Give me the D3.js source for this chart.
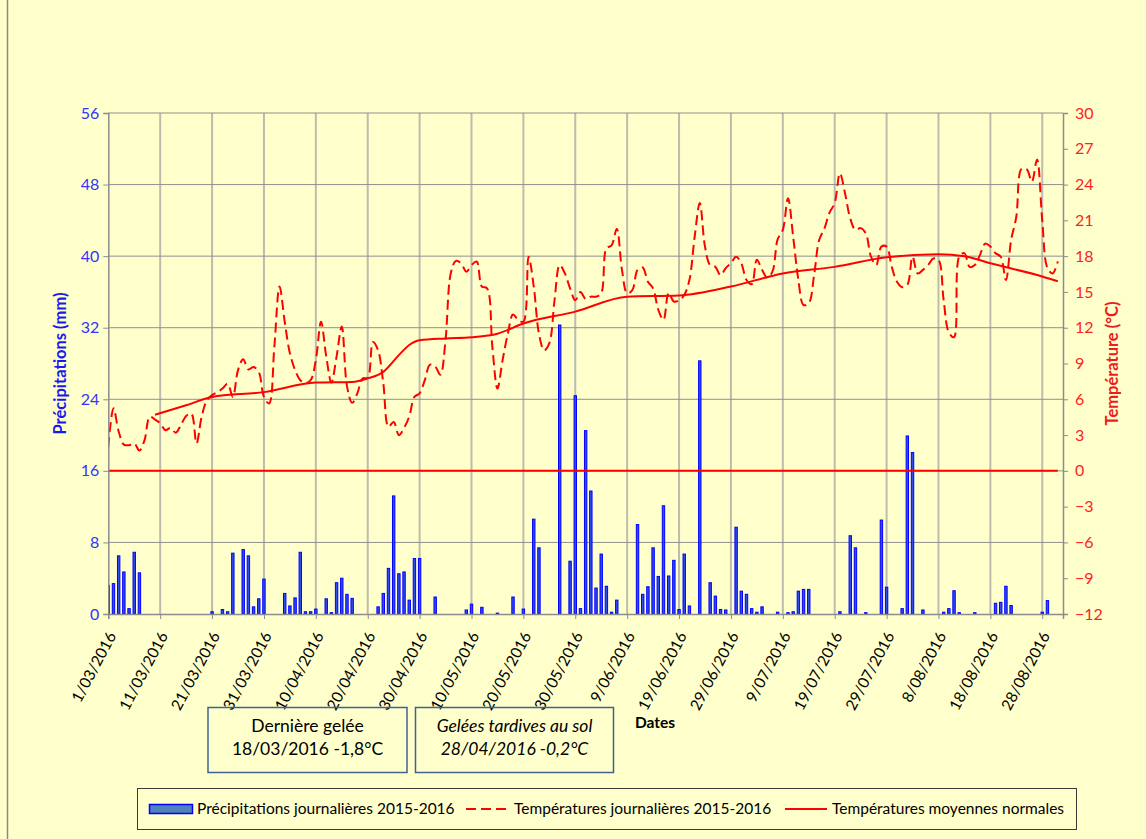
<!DOCTYPE html>
<html>
<head>
<meta charset="utf-8">
<script src="https://cdn.jsdelivr.net/npm/d3@7"></script>
<style>
  body { margin: 0; background: #FFFFCC; }
  svg { display: block; font-family: Lato, "Open Sans", sans-serif; }
</style>
</head>
<body>
<svg width="1146" height="839"></svg>
<script>
// ---- data (one value per day from 1/03/2016) ----
var startDate = "2016-03-01";
var endDate = "2016-09-01";

var rainDaily = [
  3.2, 3.4, 6.5, 4.7, 0.6, 6.9, 4.6, 0, 0, 0,
  0, 0, 0, 0, 0, 0, 0, 0, 0, 0,
  0.25, 0, 0.5, 0.25, 6.8, 0, 7.2, 6.5, 0.8, 1.7,
  3.9, 0, 0, 0, 2.3, 0.9, 1.8, 6.9, 0.25, 0.25,
  0.55, 0, 1.7, 0.15, 3.5, 4.0, 2.2, 1.75, 0, 0,
  0, 0, 0.8, 2.3, 5.1, 13.2, 4.5, 4.7, 1.55, 6.2,
  6.2, 0, 0, 1.9, 0, 0, 0, 0, 0, 0.45,
  1.1, 0, 0.75, 0, 0, 0.1, 0, 0, 1.9, 0,
  0.55, 0, 10.6, 7.4, 0, 0, 0, 32.3, 0, 5.9,
  24.4, 0.6, 20.5, 13.75, 2.9, 6.7, 3.1, 0.2, 1.55, 0,
  0, 0, 10.0, 2.2, 3.05, 7.4, 4.2, 12.1, 4.25, 6.0,
  0.5, 6.7, 0.9, 0, 28.3, 0, 3.5, 2.0, 0.5, 0.45,
  0, 9.7, 2.55, 2.2, 0.6, 0.2, 0.8, 0, 0, 0.2,
  0, 0.15, 0.25, 2.55, 2.75, 2.75, 0, 0, 0, 0,
  0, 0.25, 0, 8.75, 7.4, 0, 0.15, 0, 0, 10.5,
  3.0, 0, 0, 0.6, 19.9, 18.05, 0, 0.45, 0, 0,
  0, 0.2, 0.6, 2.6, 0.15, 0, 0, 0.15, 0, 0,
  0, 1.2, 1.3, 3.1, 0.95, 0, 0, 0, 0, 0,
  0.2, 1.5, 0, 0
];

var tempDaily = [
  2.0, 5.25, 3.3, 2.2, 2.15, 2.3, 1.7, 2.6, 4.55, 4.3,
  4.0, 3.4, 3.6, 3.2, 3.85, 4.6, 4.8, 2.3, 4.55, 5.9,
  6.35, 6.6, 6.9, 7.3, 6.2, 8.45, 9.35, 8.5, 8.7, 8.3,
  6.2, 5.65, 10.4, 15.45, 12.5, 9.85, 8.45, 7.6, 7.35, 7.6,
  9.3, 12.5, 9.6, 7.4, 9.6, 12.1, 7.1, 5.7, 6.5, 7.75,
  7.8, 10.8, 10.1, 7.35, 3.7, 4.1, 3.0, 3.6, 4.55, 6.2,
  6.5, 7.6, 8.9, 8.75, 8.05, 11.0, 16.55, 17.6, 17.4, 16.7,
  17.25, 17.55, 15.45, 15.3, 10.5, 6.9, 9.3, 11.5, 13.1, 12.65,
  12.5, 17.95, 15.45, 11.5, 10.1, 10.7, 14.3, 17.25, 16.55, 15.3,
  14.3, 15.0, 14.4, 14.6, 14.6, 14.9, 18.65, 18.9, 20.3, 16.85,
  14.9, 15.15, 16.85, 17.05, 15.85, 15.3, 13.5, 12.65, 14.9, 14.2,
  14.3, 14.75, 16.0, 19.6, 22.45, 18.8, 17.25, 17.1, 16.4, 17.0,
  17.4, 17.95, 17.4, 16.0, 15.65, 17.7, 16.85, 16.2, 16.7, 19.4,
  20.2, 22.85, 19.6, 16.0, 13.9, 14.05, 16.3, 19.35, 20.3, 21.65,
  22.45, 24.95, 23.25, 21.15, 20.2, 20.35, 19.9, 17.95, 17.25, 18.8,
  18.8, 17.1, 15.85, 15.4, 15.6, 17.95, 16.55, 16.85, 17.25, 17.8,
  17.7, 14.3, 11.6, 11.2, 17.95, 18.25, 17.1, 17.25, 18.1, 19.05,
  18.8, 18.25, 17.95, 16.0, 19.35, 21.3, 25.3, 25.3, 24.25, 26.1,
  21.0, 17.0, 16.55, 17.55
];

var normalDates = [
  "2016-03-10", "2016-03-16", "2016-03-21", "2016-03-31", "2016-04-10",
  "2016-04-17", "2016-04-20", "2016-04-23", "2016-04-26", "2016-04-28",
  "2016-04-30", "2016-05-05", "2016-05-10", "2016-05-15", "2016-05-20",
  "2016-05-30", "2016-06-09", "2016-06-19", "2016-06-29", "2016-07-09",
  "2016-07-19", "2016-07-29", "2016-08-08", "2016-08-13", "2016-08-18",
  "2016-08-28", "2016-08-31"
];
var normalTemp = [
  4.7, 5.5, 6.2, 6.6, 7.4,
  7.45, 7.75, 8.3, 9.7, 10.55,
  10.95, 11.1, 11.2, 11.5, 12.35,
  13.35, 14.6, 14.7, 15.45, 16.55,
  17.1, 17.9, 18.15, 18.0, 17.4,
  16.3, 15.9
];

var dateTicks = [
  "2016-03-01", "2016-03-11", "2016-03-21", "2016-03-31", "2016-04-10",
  "2016-04-20", "2016-04-30", "2016-05-10", "2016-05-20", "2016-05-30",
  "2016-06-09", "2016-06-19", "2016-06-29", "2016-07-09", "2016-07-19",
  "2016-07-29", "2016-08-08", "2016-08-18", "2016-08-28"
];
var rainTicks = [0, 8, 16, 24, 32, 40, 48, 56];
var tempTicks = [-12, -9, -6, -3, 0, 3, 6, 9, 12, 15, 18, 21, 24, 27, 30];

var legendLabels = [
  "Précipitations journalières 2015-2016",
  "Températures journalières 2015-2016",
  "Températures moyennes normales"
];
var noteLines = [
  ["Dernière gelée", "18/03/2016 -1,8°C"],
  ["Gelées tardives au sol", "28/04/2016 -0,2°C"]
];

// ---- setup ----
var parse = d3.utcParse("%Y-%m-%d");
var fmt = d3.utcFormat("%-d/%m/%Y");
var start = parse(startDate);
var days = tempDaily.map(function (t, i) { return d3.utcDay.offset(start, i); });

var svg = d3.select("svg");
var plotLeft = 108.3, plotRight = 1063, plotTop = 113, plotBottom = 614;

svg.append("rect").attr("width", 1146).attr("height", 839).attr("fill", "#FFFFCC");
svg.append("line").attr("x1", 7.5).attr("x2", 7.5).attr("y1", 0).attr("y2", 839)
  .attr("stroke", "#8a8a80").attr("stroke-width", 1.5);

var x = d3.scaleUtc().domain([start, parse(endDate)]).range([plotLeft, plotRight]);
var yRain = d3.scaleLinear().domain([0, 56]).range([plotBottom, plotTop]);
var yTemp = d3.scaleLinear().domain([-12, 30]).range([plotBottom, plotTop]);

// gridlines
svg.append("g").selectAll("line").data(dateTicks.slice(1)).enter().append("line")
  .attr("x1", function (d) { return x(parse(d)); })
  .attr("x2", function (d) { return x(parse(d)); })
  .attr("y1", plotTop).attr("y2", plotBottom)
  .attr("stroke", "#bcbcae").attr("stroke-width", 2);

svg.append("g").selectAll("line").data(rainTicks.slice(1)).enter().append("line")
  .attr("x1", plotLeft).attr("x2", plotRight)
  .attr("y1", function (d) { return yRain(d); })
  .attr("y2", function (d) { return yRain(d); })
  .attr("stroke", "#8f8f8f").attr("stroke-width", 1);

// clip for plot
svg.append("clipPath").attr("id", "plot").append("rect")
  .attr("x", plotLeft).attr("y", plotTop - 5)
  .attr("width", plotRight - plotLeft).attr("height", plotBottom - plotTop + 5);

var plot = svg.append("g").attr("clip-path", "url(#plot)");

// bars
var barW = 2.4;
plot.selectAll("rect.bar")
  .data(rainDaily.map(function (v, i) { return { date: days[i], v: v }; })
    .filter(function (d) { return d.v > 0; }))
  .enter().append("rect")
  .attr("class", "bar")
  .attr("x", function (d) { return x(d.date) - barW / 2; })
  .attr("width", barW)
  .attr("y", function (d) { return yRain(d.v); })
  .attr("height", function (d) { return yRain(0) - yRain(d.v); })
  .attr("fill", "#2f4fe8")
  .attr("stroke", "#0000ff")
  .attr("stroke-width", 1);

// zero line
plot.append("line")
  .attr("x1", x(days[0])).attr("x2", x(days[days.length - 1]))
  .attr("y1", yTemp(0)).attr("y2", yTemp(0))
  .attr("stroke", "#ff0000").attr("stroke-width", 2);

// normal temperatures
var normalLine = d3.line()
  .x(function (d) { return x(d.date); })
  .y(function (d) { return yTemp(d.t); })
  .curve(d3.curveMonotoneX);

plot.append("path")
  .datum(normalDates.map(function (d, i) { return { date: parse(d), t: normalTemp[i] }; }))
  .attr("d", normalLine)
  .attr("fill", "none")
  .attr("stroke", "#ff0000")
  .attr("stroke-width", 2);

// daily temperatures
var tempLine = d3.line()
  .x(function (d) { return x(d.date); })
  .y(function (d) { return yTemp(d.t); })
  .curve(d3.curveCatmullRom.alpha(0.5));

plot.append("path")
  .datum(tempDaily.map(function (t, i) { return { date: days[i], t: t }; }))
  .attr("d", tempLine)
  .attr("fill", "none")
  .attr("stroke", "#ff0000")
  .attr("stroke-width", 2)
  .attr("stroke-dasharray", "10,5");

// axes
var axisColor = "#8c8c8c";

var gL = svg.append("g").attr("transform", "translate(" + plotLeft + ",0)")
  .call(d3.axisLeft(yRain).tickValues(rainTicks).tickSize(5).tickPadding(4));
gL.selectAll("text").attr("fill", "#3333ff").style("font-size", "16px");

var gR = svg.append("g").attr("transform", "translate(" + plotRight + ",0)")
  .call(d3.axisRight(yTemp).tickValues(tempTicks).tickSize(5).tickPadding(7));
gR.selectAll("text").attr("fill", "#ff2222").style("font-size", "16px");

var gB = svg.append("g").attr("transform", "translate(0," + plotBottom + ")")
  .call(d3.axisBottom(x).tickValues(dateTicks.map(parse)).tickSize(5).tickFormat(fmt));
gB.selectAll("text")
  .attr("fill", "#000")
  .style("font-size", "15.5px")
  .attr("x", 0).attr("y", 0).attr("dy", "0.35em")
  .attr("text-anchor", "end")
  .attr("transform", "translate(3,19) rotate(-62)");

[gL, gR, gB].forEach(function (g) {
  g.select(".domain").attr("stroke", axisColor).attr("stroke-width", 1.5);
  g.selectAll(".tick line").attr("stroke", axisColor);
  g.attr("font-family", null);
});

// axis titles
svg.append("text")
  .attr("transform", "translate(66," + (plotTop + plotBottom) / 2 + ") rotate(-90)")
  .attr("text-anchor", "middle")
  .attr("fill", "#1a1aee")
  .style("font-size", "16.5px").style("font-weight", "bold")
  .text("Précipitations (mm)");

svg.append("text")
  .attr("transform", "translate(1118," + (plotTop + plotBottom) / 2 + ") rotate(-90)")
  .attr("text-anchor", "middle")
  .attr("fill", "#ee1c1c")
  .style("font-size", "16.5px").style("font-weight", "bold")
  .text("Température (°C)");

svg.append("text")
  .attr("x", 635).attr("y", 728)
  .style("font-size", "15.5px").style("font-weight", "bold")
  .text("Dates");

// note boxes
var boxes = [{ x: 208, w: 199, italic: false }, { x: 415.5, w: 198, italic: true }];
boxes.forEach(function (b, i) {
  svg.append("rect")
    .attr("x", b.x).attr("y", 707.5).attr("width", b.w).attr("height", 65)
    .attr("fill", "none").attr("stroke", "#3f6391").attr("stroke-width", 1.5);
  svg.append("text")
    .attr("x", b.x + b.w / 2).attr("y", 732)
    .attr("text-anchor", "middle")
    .style("font-size", "17.5px").style("font-style", b.italic ? "italic" : "normal")
    .text(noteLines[i][0]);
  svg.append("text")
    .attr("x", b.x + b.w / 2).attr("y", 755)
    .attr("text-anchor", "middle")
    .style("font-size", "17.5px").style("font-style", b.italic ? "italic" : "normal")
    .text(noteLines[i][1]);
});

// legend
var leg = svg.append("g");
leg.append("rect").attr("x", 137.5).attr("y", 788.5).attr("width", 939).attr("height", 41)
  .attr("fill", "none").attr("stroke", "#3a3a3a").attr("stroke-width", 1);
leg.append("rect").attr("x", 149.5).attr("y", 804.5).attr("width", 43).attr("height", 9)
  .attr("fill", "#4f81bd").attr("stroke", "#0000ff").attr("stroke-width", 1.5);
leg.append("line").attr("x1", 466).attr("x2", 510).attr("y1", 809).attr("y2", 809)
  .attr("stroke", "#ff0000").attr("stroke-width", 2).attr("stroke-dasharray", "10,5");
leg.append("line").attr("x1", 785).attr("x2", 827).attr("y1", 809).attr("y2", 809)
  .attr("stroke", "#ff0000").attr("stroke-width", 2);
[197, 514, 832].forEach(function (lx, i) {
  leg.append("text").attr("x", lx).attr("y", 814)
    .style("font-size", "15.5px").text(legendLabels[i]);
});
</script>
</body>
</html>
